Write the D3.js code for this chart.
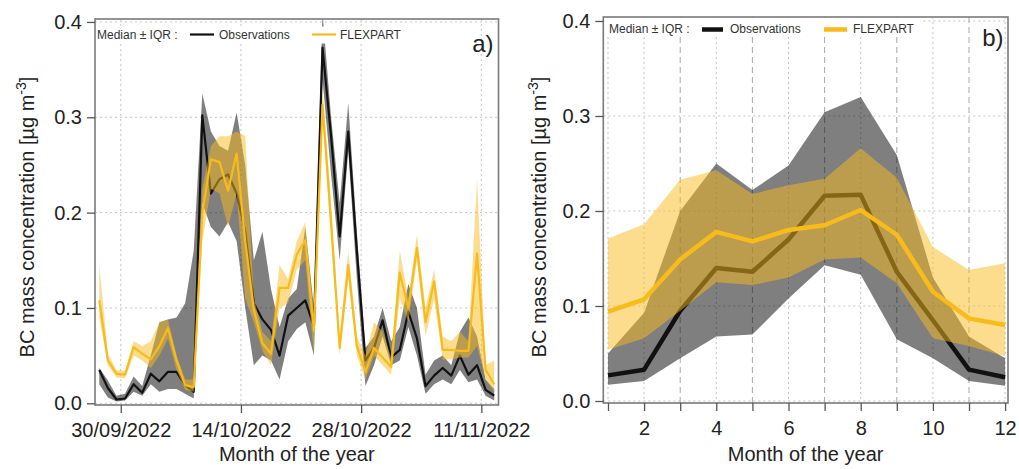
<!DOCTYPE html>
<html>
<head>
<meta charset="utf-8">
<script src="https://cdn.jsdelivr.net/npm/d3@7"></script>
<style>
  body { margin: 0; background: #fff; }
  svg { display: block; font-family: "Liberation Sans", Arial, sans-serif; }
</style>
</head>
<body>
<svg id="chart" width="1019" height="469"></svg>
<script>
// ---- panel a: daily values, 27/09/2022 .. 12/11/2022 ----
const dayStart = new Date(2022, 8, 27);
const dayEnd = new Date(2022, 10, 13);
const dateTicks = ['30/09/2022', '14/10/2022', '28/10/2022', '11/11/2022'];

const obsMed = [0.035,0.016,0.004,0.005,0.020,0.011,0.031,0.023,0.033,0.033,0.019,0.012,
  0.302,0.220,0.235,0.240,0.220,0.180,0.105,0.088,0.077,0.050,0.092,0.100,0.108,0.080,
  0.373,0.280,0.175,0.285,0.160,0.045,0.058,0.087,0.048,0.056,0.096,0.068,0.018,0.029,
  0.037,0.029,0.050,0.030,0.040,0.014,0.008];
const obsLo = [0.020,0.006,0.002,0.003,0.012,0.008,0.020,0.012,0.015,0.015,0.010,0.005,
  0.210,0.185,0.175,0.190,0.170,0.100,0.040,0.050,0.045,0.025,0.065,0.078,0.085,0.050,
  0.340,0.240,0.150,0.265,0.130,0.018,0.040,0.070,0.040,0.045,0.080,0.050,0.010,0.020,
  0.025,0.020,0.035,0.022,0.025,0.008,0.003];
const obsHi = [0.037,0.024,0.008,0.010,0.028,0.018,0.050,0.085,0.088,0.090,0.105,0.160,
  0.325,0.285,0.270,0.265,0.305,0.250,0.150,0.180,0.120,0.080,0.110,0.120,0.185,0.100,
  0.410,0.300,0.210,0.315,0.180,0.058,0.070,0.100,0.065,0.080,0.125,0.100,0.030,0.045,
  0.050,0.040,0.075,0.090,0.070,0.025,0.015];

const flexMed = [0.108,0.045,0.031,0.030,0.059,0.052,0.046,0.060,0.079,0.045,0.019,0.017,
  0.200,0.256,0.253,0.223,0.262,0.170,0.098,0.063,0.052,0.121,0.121,0.156,0.171,0.076,
  0.313,0.190,0.058,0.145,0.060,0.033,0.058,0.048,0.038,0.137,0.100,0.163,0.085,0.128,
  0.056,0.056,0.055,0.055,0.157,0.035,0.020];
const flexLo = [0.090,0.040,0.027,0.026,0.050,0.045,0.037,0.050,0.068,0.035,0.014,0.012,
  0.170,0.225,0.220,0.185,0.220,0.110,0.085,0.055,0.040,0.100,0.105,0.140,0.150,0.050,
  0.300,0.170,0.050,0.130,0.050,0.025,0.050,0.040,0.030,0.110,0.085,0.150,0.070,0.110,
  0.046,0.046,0.048,0.048,0.060,0.025,0.012];
const flexHi = [0.145,0.052,0.035,0.034,0.065,0.060,0.065,0.085,0.088,0.050,0.025,0.025,
  0.225,0.270,0.280,0.280,0.285,0.280,0.110,0.075,0.065,0.145,0.130,0.170,0.190,0.090,
  0.330,0.210,0.070,0.160,0.070,0.050,0.085,0.075,0.048,0.160,0.110,0.177,0.100,0.140,
  0.070,0.065,0.075,0.065,0.235,0.040,0.045];

// ---- panel b: monthly values ----
const months = [1,2,3,4,5,6,7,8,9,10,11,12];
const obsMonMed = [0.027,0.033,0.095,0.140,0.136,0.170,0.216,0.217,0.136,0.085,0.033,0.025];
const obsMonLo  = [0.017,0.021,0.045,0.068,0.070,0.108,0.143,0.133,0.065,0.045,0.021,0.016];
const obsMonHi  = [0.050,0.093,0.200,0.250,0.222,0.248,0.304,0.320,0.259,0.130,0.068,0.045];
const flexMonMed = [0.094,0.107,0.149,0.178,0.168,0.180,0.185,0.201,0.175,0.115,0.087,0.080];
const flexMonLo  = [0.054,0.066,0.095,0.125,0.122,0.130,0.149,0.151,0.124,0.066,0.058,0.047];
const flexMonHi  = [0.171,0.186,0.233,0.243,0.218,0.227,0.234,0.266,0.235,0.162,0.138,0.145];

const yTicks = [0.0, 0.1, 0.2, 0.3, 0.4];

const YELLOW = '#f8bb1c';
const svg = d3.select('#chart');

const parseD = d3.timeParse('%d/%m/%Y');
const fmtD = d3.timeFormat('%d/%m/%Y');
// one point per day, at noon
const days = d3.timeDay.range(dayStart, dayEnd).map(d => d3.timeHour.offset(d, 12));

function drawPanel(p) {
  const x = p.x, y = p.y;
  const [x0, x1] = x.range();
  const [yb, yt] = y.range();
  const g = svg.append('g');

  g.append('clipPath').attr('id', 'clip' + p.id)
    .append('rect').attr('x', x0).attr('y', yt).attr('width', x1 - x0).attr('height', yb - yt);

  // grid
  g.append('g').selectAll('line').data(yTicks).join('line')
    .attr('x1', x0).attr('x2', x1)
    .attr('y1', d => y(d)).attr('y2', d => y(d))
    .attr('stroke', '#c4c4c4').attr('stroke-dasharray', '2,3');
  g.append('g').selectAll('line').data(p.vgrid).join('line')
    .attr('x1', d => x(d.v)).attr('x2', d => x(d.v))
    .attr('y1', yt).attr('y2', yb)
    .attr('stroke', d => d.dash ? '#a8a8a8' : '#c4c4c4')
    .attr('stroke-dasharray', d => d.dash ? '6,4' : '2,3');

  const plot = g.append('g').attr('clip-path', `url(#clip${p.id})`);
  const band = d3.area().x(d => x(d.x)).y0(d => y(d.lo)).y1(d => y(d.hi));
  const line = d3.line().x(d => x(d.x)).y(d => y(d.med));

  plot.append('path').datum(p.obs).attr('d', band)
    .attr('fill', '#000').attr('fill-opacity', 0.5);
  plot.append('path').datum(p.obs).attr('d', line)
    .attr('fill', 'none').attr('stroke', '#111').attr('stroke-width', p.lw)
    .attr('stroke-linejoin', 'round');
  plot.append('path').datum(p.flex).attr('d', band)
    .attr('fill', YELLOW).attr('fill-opacity', 0.5);
  plot.append('path').datum(p.flex).attr('d', line)
    .attr('fill', 'none').attr('stroke', YELLOW).attr('stroke-width', p.lw)
    .attr('stroke-linejoin', 'round');

  // legend
  const L = p.legend;
  g.append('rect').attr('x', x0 + 1).attr('y', L.top).attr('width', L.w).attr('height', L.h)
    .attr('fill', '#fff');
  const lt = g.append('g').attr('font-size', 12).attr('fill', '#333');
  lt.append('text').attr('x', L.x0).attr('y', L.base).text('Median ± IQR :');
  lt.append('line').attr('x1', L.l1[0]).attr('x2', L.l1[1]).attr('y1', L.ly).attr('y2', L.ly)
    .attr('stroke', '#111').attr('stroke-width', p.lw);
  lt.append('text').attr('x', L.t1).attr('y', L.base).text('Observations');
  lt.append('line').attr('x1', L.l2[0]).attr('x2', L.l2[1]).attr('y1', L.ly).attr('y2', L.ly)
    .attr('stroke', YELLOW).attr('stroke-width', p.lw);
  lt.append('text').attr('x', L.t2).attr('y', L.base).text('FLEXPART');

  // frame
  g.append('rect').attr('x', x0).attr('y', yt).attr('width', x1 - x0).attr('height', yb - yt)
    .attr('fill', 'none').attr('stroke', '#7a7a7a').attr('stroke-width', 1.6);

  // axes
  const ya = g.append('g').attr('transform', `translate(${x0},0)`)
    .call(d3.axisLeft(y).tickValues(yTicks).tickFormat(d3.format('.1f')).tickSize(8).tickPadding(5));
  const xa = g.append('g').attr('transform', `translate(0,${yb})`)
    .call(d3.axisBottom(x).tickValues(p.xticks).tickFormat(p.xfmt).tickSize(8).tickPadding(10));
  [ya, xa].forEach(a => {
    a.select('.domain').remove();
    a.selectAll('line').attr('stroke', '#555').attr('stroke-width', 1.3);
    a.selectAll('text').attr('font-size', 20).attr('fill', '#222')
      .attr('font-family', '"Liberation Sans", Arial, sans-serif');
  });

  g.append('text').attr('x', (x0 + x1) / 2).attr('y', 461).attr('text-anchor', 'middle')
    .attr('font-size', 20).attr('fill', '#222').text('Month of the year');

  const yt2 = g.append('text').attr('transform', `translate(${p.ytx},217) rotate(-90)`)
    .attr('text-anchor', 'middle').attr('font-size', 20).attr('fill', '#222');
  yt2.append('tspan').text('BC mass concentration [µg m');
  yt2.append('tspan').attr('font-size', 14).attr('dy', -8).text('-3');
  yt2.append('tspan').attr('dy', 8).text(']');

  g.append('text').attr('x', p.lab[0]).attr('y', p.lab[1]).attr('text-anchor', 'end')
    .attr('font-size', 24).attr('fill', '#222').text(p.label);
}

// panel a
const xA = d3.scaleTime().domain([dayStart, dayEnd]).range([95, 498.5]);
const yA = d3.scaleLinear().domain([-0.0018, 0.4031]).range([405, 19]);
drawPanel({
  id: 'a', x: xA, y: yA, lw: 2.2,
  obs: days.map((d, i) => ({ x: d, med: obsMed[i], lo: obsLo[i], hi: obsHi[i] })),
  flex: days.map((d, i) => ({ x: d, med: flexMed[i], lo: flexLo[i], hi: flexHi[i] })),
  vgrid: dateTicks.map(s => ({ v: parseD(s), dash: false })),
  xticks: dateTicks.map(parseD), xfmt: fmtD,
  legend: { top: 26.5, w: 316, h: 17, x0: 97, base: 38.7, ly: 34.5,
            l1: [190, 214], t1: 219, l2: [312, 336], t2: 340 },
  ytx: 34, lab: [493.5, 51.7], label: 'a)'
});

// panel b
const xB = d3.scaleLinear().domain([0.87, 12.08]).range([603.3, 1008]);
const yB = d3.scaleLinear().domain([-0.0021, 0.4042]).range([403, 17]);
drawPanel({
  id: 'b', x: xB, y: yB, lw: 4.5,
  obs: months.map((m, i) => ({ x: m, med: obsMonMed[i], lo: obsMonLo[i], hi: obsMonHi[i] })),
  flex: months.map((m, i) => ({ x: m, med: flexMonMed[i], lo: flexMonLo[i], hi: flexMonHi[i] })),
  vgrid: months.map(m => ({ v: m, dash: m % 2 === 1 && m > 1 })),
  xticks: months, xfmt: d => (d % 2 === 0 ? d : ''),
  legend: { top: 18, w: 316, h: 19, x0: 609, base: 33.3, ly: 29.5,
            l1: [702, 723], t1: 730, l2: [824, 847], t2: 853 },
  ytx: 546, lab: [1003.5, 45.8], label: 'b)'
});
</script>
</body>
</html>
